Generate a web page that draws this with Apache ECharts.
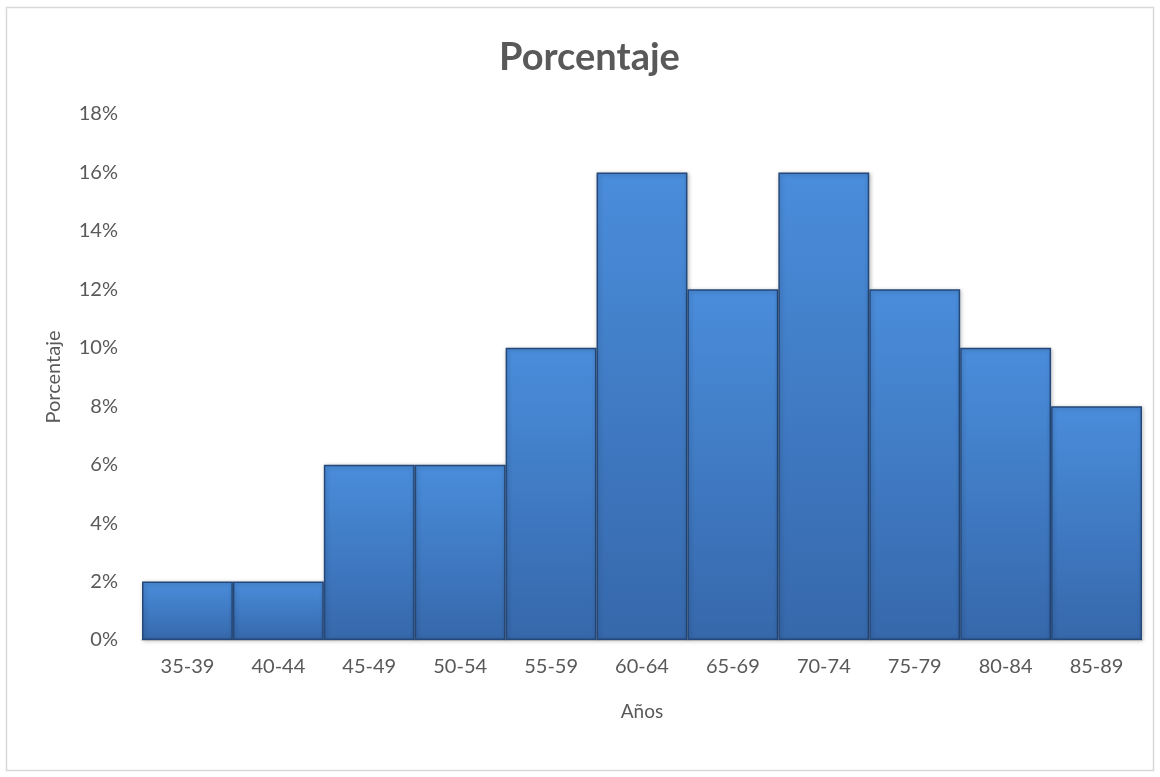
<!DOCTYPE html>
<html>
<head>
<meta charset="utf-8">
<script src="https://cdn.jsdelivr.net/npm/echarts@6/dist/echarts.min.js"></script>
<style>
  html, body { margin: 0; padding: 0; background: #fff; }
  #main { width: 1160px; height: 777px; }
</style>
</head>
<body>
<div id="main"></div>
<script>
var categories = ['35-39', '40-44', '45-49', '50-54', '55-59', '60-64', '65-69', '70-74', '75-79', '80-84', '85-89'];
var values = [0.02, 0.02, 0.06, 0.06, 0.10, 0.16, 0.12, 0.16, 0.12, 0.10, 0.08];
var yTicks = [0, 0.02, 0.04, 0.06, 0.08, 0.10, 0.12, 0.14, 0.16, 0.18];

var myChart = echarts.init(document.getElementById('main'));
var textColor = '#595959';
var font = 'Lato, "Liberation Sans", sans-serif';

myChart.setOption({
    animation: false,
    textStyle: { fontFamily: font },
    graphic: [{
        type: 'rect',
        shape: { x: 6.5, y: 7.5, width: 1147, height: 763 },
        style: { fill: 'none', stroke: '#d9d9d9', lineWidth: 1.5 },
        z: -1
    }],
    title: {
        text: 'Porcentaje',
        left: 494,
        top: 34,
        textStyle: { fontSize: 38, fontWeight: 'bold', color: textColor, fontFamily: font }
    },
    grid: { left: 142, right: 18, top: 114, bottom: 137, containLabel: false },
    xAxis: {
        type: 'category',
        data: categories,
        name: 'Años',
        nameLocation: 'middle',
        nameGap: 62,
        nameTextStyle: { fontSize: 19, color: textColor },
        axisLine: { lineStyle: { color: '#d9d9d9', width: 2 } },
        axisTick: { show: false },
        axisLabel: { fontSize: 20, color: textColor, margin: 17 }
    },
    yAxis: {
        type: 'value',
        min: yTicks[0],
        max: yTicks[yTicks.length - 1],
        interval: 0.02,
        name: 'Porcentaje',
        nameLocation: 'middle',
        nameGap: 78,
        nameTextStyle: { fontSize: 20, color: textColor },
        splitLine: { show: false },
        axisLine: { show: false },
        axisTick: { show: false },
        axisLabel: {
            fontSize: 20, color: textColor, margin: 24,
            formatter: function (v) { return Math.round(v * 100) + '%'; }
        }
    },
    series: [{
        type: 'bar',
        data: values,
        barCategoryGap: '0%',
        itemStyle: {
            color: new echarts.graphic.LinearGradient(0, 0, 0, 1, [
                { offset: 0, color: '#4a8ddb' },
                { offset: 1, color: '#3668ab' }
            ]),
            borderColor: '#24487a',
            borderWidth: 1.5,
            shadowColor: 'rgba(0,0,0,0.25)',
            shadowBlur: 4,
            shadowOffsetX: 1,
            shadowOffsetY: 1
        }
    }]
});
</script>
</body>
</html>
